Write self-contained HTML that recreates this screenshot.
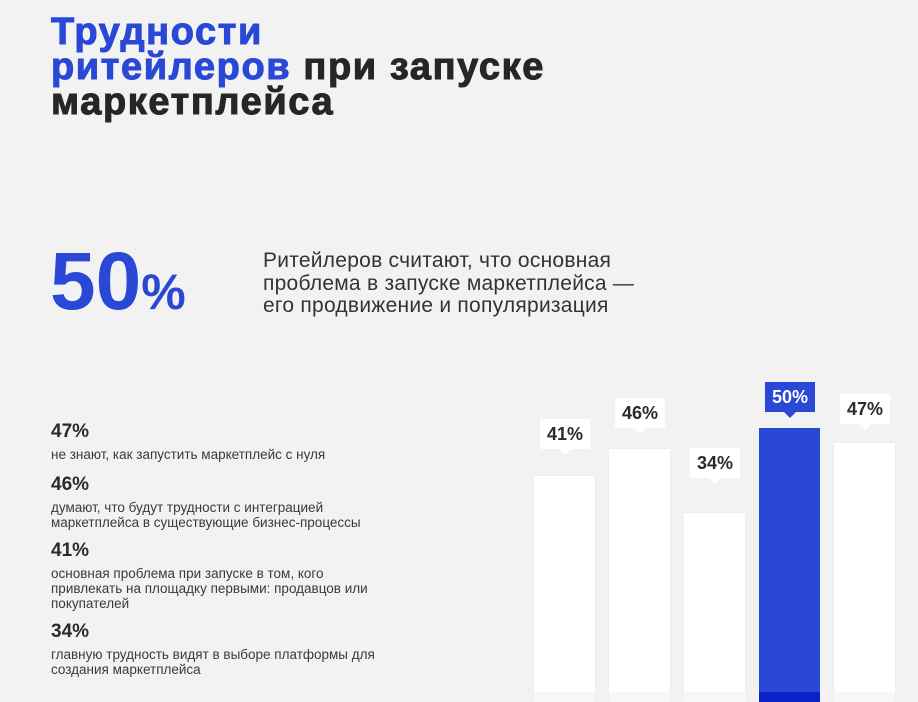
<!DOCTYPE html>
<html><head><meta charset="utf-8"><style>
body{margin:0;width:918px;height:702px;background:#f2f2f2;position:relative;overflow:hidden;font-family:"Liberation Sans","DejaVu Sans",sans-serif;color:#2b2b2b}
.a{position:absolute;white-space:nowrap}
.t{font-weight:bold;font-size:38px;line-height:35px;letter-spacing:1.6px;left:51px;top:15px;color:#262626;-webkit-text-stroke:1px currentColor}
.b{color:#2a48d6}
.p{font-size:21px;line-height:22.5px;letter-spacing:0.25px;color:#333}
.h{font-weight:bold;font-size:19px}
.s{font-size:13.5px;line-height:15px;color:#3a3a3a}
.bar{position:absolute;background:#fff;width:61px;bottom:10px;box-shadow:0 0 1px #e2e2e2}
.base{position:absolute;background:#f7f7f7;width:61px;bottom:0;height:10px}
.lab{position:absolute;width:50px;height:30px;background:#fff;font-weight:bold;font-size:18px;line-height:30px;text-align:center;color:#2b2b2b}
.lab:after{content:"";position:absolute;left:19px;top:30px;border:6px solid transparent;border-top-color:#fff;border-bottom:0}
.lab.bl{background:#2a48d6;color:#fff}
.lab.bl:after{border-top-color:#2a48d6}
</style></head><body>
<div class="a t"><span class="b">Трудности</span><br><span class="b">ритейлеров</span> при запуске<br>маркетплейса</div>
<div class="a b" style="left:50px;top:236px;font-weight:bold;font-size:82px;line-height:92px">50<span style="font-size:50px">%</span></div>
<div class="a p" style="left:263px;top:250px">Ритейлеров считают, что основная<br>проблема в запуске маркетплейса —<br>его продвижение и популяризация</div>

<div class="a h" style="left:51px;top:421px">47%</div>
<div class="a s" style="left:51px;top:447px">не знают, как запустить маркетплейс с нуля</div>
<div class="a h" style="left:51px;top:474px">46%</div>
<div class="a s" style="left:51px;top:500px">думают, что будут трудности с интеграцией<br>маркетплейса в существующие бизнес-процессы</div>
<div class="a h" style="left:51px;top:540px">41%</div>
<div class="a s" style="left:51px;top:566px">основная проблема при запуске в том, кого<br>привлекать на площадку первыми: продавцов или<br>покупателей</div>
<div class="a h" style="left:51px;top:621px">34%</div>
<div class="a s" style="left:51px;top:647px">главную трудность видят в выборе платформы для<br>создания маркетплейса</div>

<div class="bar" style="left:534px;top:476px"></div><div class="base" style="left:534px"></div>
<div class="bar" style="left:609px;top:449px"></div><div class="base" style="left:609px"></div>
<div class="bar" style="left:684px;top:513px"></div><div class="base" style="left:684px"></div>
<div class="bar" style="left:759px;top:428px;background:#2a48d6;box-shadow:none"></div><div class="base" style="left:759px;background:#0a22c8"></div>
<div class="bar" style="left:834px;top:443px"></div><div class="base" style="left:834px"></div>

<div class="lab" style="left:540px;top:419px">41%</div>
<div class="lab" style="left:615px;top:398px">46%</div>
<div class="lab" style="left:690px;top:448px">34%</div>
<div class="lab bl" style="left:765px;top:382px">50%</div>
<div class="lab" style="left:840px;top:394px">47%</div>
</body></html>
